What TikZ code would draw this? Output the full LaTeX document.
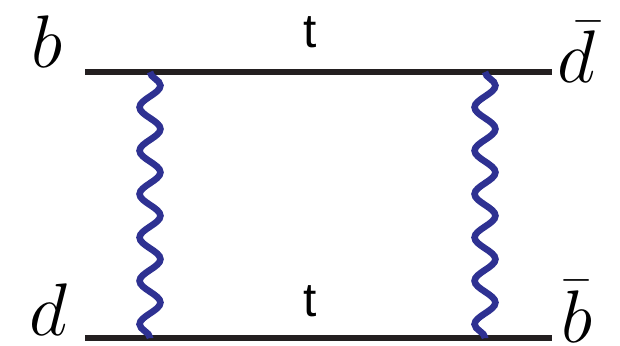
\RequirePackage{fix-cm}
\documentclass[tikz,border=0pt]{standalone}
\usepackage{fontspec}
\newfontfamily\propfont{Liberation Sans}
\usetikzlibrary{decorations.pathmorphing}
\definecolor{BoxBlue}{HTML}{2E3192}
\definecolor{BoxBlack}{HTML}{231F20}

\begin{document}
\begin{tikzpicture}[
    quark/.style={draw=BoxBlack,line width=4.3pt},
    boson/.style={draw=BoxBlue,line width=4.7pt,decorate,decoration={snake,segment length=1.085cm,amplitude=0.26cm}},
    flav/.style={inner sep=0pt,anchor=base,font=\fontsize{53}{60}\selectfont},
    prop/.style={inner sep=0pt,anchor=base,font=\propfont\fontsize{34}{40}\selectfont}
  ]
    \useasboundingbox (0,0) rectangle (15.5,8.625);
    % vertices
    \coordinate (b) at (2.125,6.825);
    \coordinate (dbar) at (13.8,6.825);
    \coordinate (d) at (2.125,0.175);
    \coordinate (bbar) at (13.8,0.175);
    \coordinate (v1) at (3.75,6.825);
    \coordinate (v2) at (3.75,0.175);
    \coordinate (v3) at (12.125,6.825);
    \coordinate (v4) at (12.125,0.175);
    % external labels
    \node[flav] (lb) at (1.175,6.925) {$b$};
    \node[flav] (ld) at (1.2,0.25) {$d$};
    \node[flav] (ldbar) at (14.4,6.55) {$\bar{d}$};
    \node[flav] (lbbar) at (14.425,0.075) {$\bar{b}$};
    \node[prop] (ttop) at (7.75,7.425) {t};
    \node[prop] (tbot) at (7.75,0.725) {t};
    % lines
    \draw[quark] (b) -- (dbar);
    \draw[quark] (d) -- (bbar);
    \draw[boson] (v1) -- (v2);
    \draw[boson] (v3) -- (v4);
  \end{tikzpicture}
\end{document}
